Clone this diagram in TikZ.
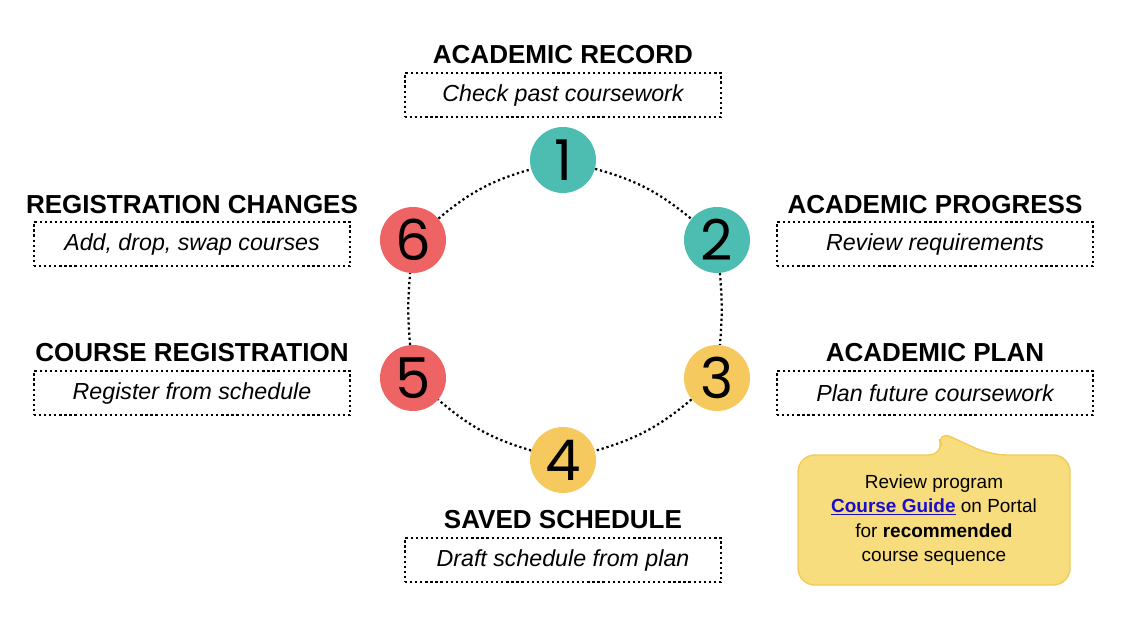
\documentclass[tikz,border=0pt]{standalone}
\usepackage{fontspec}
\setmainfont{Liberation Sans}
\newfontfamily\digitfont{Poppins}
\definecolor{teal1}{HTML}{4DBDB2}
\definecolor{red1}{HTML}{EE6464}
\definecolor{yel1}{HTML}{F5C95E}
\definecolor{callfill}{HTML}{F8DD7E}
\definecolor{callline}{HTML}{F2CB55}
\definecolor{linkblue}{HTML}{1A0DCC}
\begin{document}
\begin{tikzpicture}[x=0.025cm,y=-0.025cm,
  num/.style={circle,minimum size=66*0.025cm,inner sep=0pt,font=\digitfont\fontsize{40}{40}\selectfont},
  ttl/.style={font=\bfseries\fontsize{18.5}{20}\selectfont},
  dbox/.style={draw,dotted,line width=1.6pt,minimum width=316*0.025cm,minimum height=44*0.025cm,font=\itshape\fontsize{16.5}{18}\selectfont},
  ring/.style={dotted,line width=1.6pt}]
\useasboundingbox (0,0) rectangle (1130,639);
\node[num,fill=teal1] (n1) at (563,160) {1};
\node[num,fill=teal1] (n2) at (717,240) {2};
\node[num,fill=yel1] (n3) at (717,378) {3};
\node[num,fill=yel1] (n4) at (563,460) {4};
\node[num,fill=red1] (n5) at (413,378) {5};
\node[num,fill=red1] (n6) at (413,240) {6};
\draw[ring] (n1) to[bend left=12] (n2);
\draw[ring] (n2) to[bend left=5] (n3);
\draw[ring] (n3) to[bend left=12] (n4);
\draw[ring] (n4) to[bend left=12] (n5);
\draw[ring] (n5) to[bend left=5] (n6);
\draw[ring] (n6) to[bend left=12] (n1);
\node[ttl] (t1) at (563,55) {ACADEMIC RECORD};
\node[dbox] (b1) at (563,95) {Check past coursework};
\node[ttl] (t2) at (935,205) {ACADEMIC PROGRESS};
\node[dbox] (b2) at (935,244) {Review requirements};
\node[ttl] (t3) at (935,353) {ACADEMIC PLAN};
\node[dbox] (b3) at (935,393) {Plan future coursework};
\node[ttl] (t4) at (563,520) {SAVED SCHEDULE};
\node[dbox] (b4) at (563,560) {Draft schedule from plan};
\node[ttl] (t5) at (192,353) {COURSE REGISTRATION};
\node[dbox] (b5) at (192,393) {Register from schedule};
\node[ttl] (t6) at (192,205) {REGISTRATION CHANGES};
\node[dbox] (b6) at (192,244) {Add, drop, swap courses};
\draw[callline,fill=callfill,line width=1pt,rounded corners=12]
  (798,455) -- (945,455) -- (936,430) -- (990,455) -- (1070,455) -- (1070,585) -- (798,585) -- cycle;
\node[align=center,font=\fontsize{13.5}{17.5}\selectfont] (c) at (934,520)
  {Review program\\ {\color{linkblue}\bfseries\underline{Course Guide}} on Portal\\ for \textbf{recommended}\\ course sequence};
\end{tikzpicture}
\end{document}
